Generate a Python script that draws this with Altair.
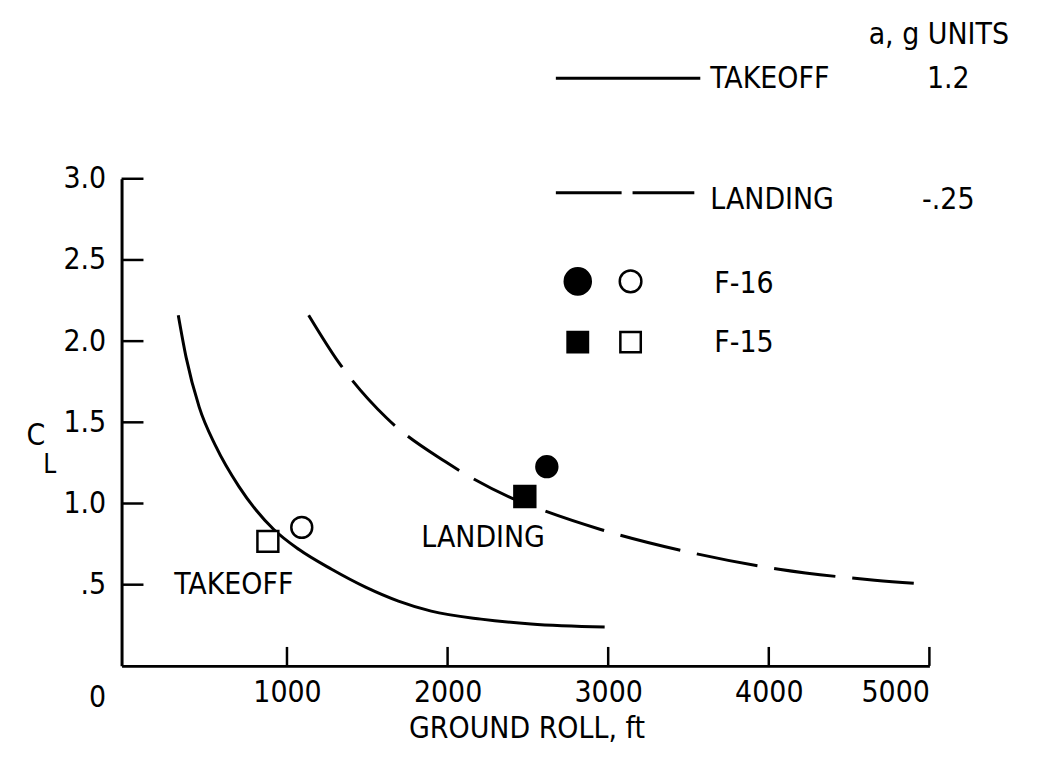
import altair as alt
import pandas as pd

FONT = "DejaVu Sans Condensed, Liberation Sans"

# ---- data ----
takeoff_x = [323, 372, 453, 558, 701, 918, 1073, 1278, 1489, 1694, 1898, 2208, 2519, 2978]
takeoff_y = [2.16, 1.90, 1.595, 1.35, 1.104, 0.840, 0.718, 0.595, 0.485, 0.399, 0.337, 0.288, 0.258, 0.239]

landing_x = [1135, 1321, 1619, 1985, 2419, 2581, 2953, 3536, 4063, 4659, 4981]
landing_y = [2.16, 1.871, 1.528, 1.258, 1.025, 0.963, 0.840, 0.693, 0.595, 0.528, 0.503]

aircraft = ["F-16", "F-15", "F-16", "F-15"]
phase = ["LANDING", "LANDING", "TAKEOFF", "TAKEOFF"]
pt_x = [2618, 2481, 1092, 881]
pt_y = [1.227, 1.043, 0.853, 0.767]

x_ticks = [1000, 2000, 3000, 4000, 5000]
y_ticks = [0.5, 1.0, 1.5, 2.0, 2.5, 3.0]

W, H = 811, 489
FS = 30

take_df = pd.DataFrame({"x": takeoff_x, "y": takeoff_y})
land_df = pd.DataFrame({"x": landing_x, "y": landing_y})
pts_df = pd.DataFrame({"aircraft": aircraft, "phase": phase, "x": pt_x, "y": pt_y})

xs = alt.Scale(domain=[-30, 5000], nice=False, zero=False)
ys = alt.Scale(domain=[0, 3], nice=False, zero=False)

xaxis = alt.Axis(values=x_ticks, format="d", ticks=False, labelPadding=12, labelFontSize=FS,
                 labelFont=FONT, domainWidth=3, domainColor="black", grid=False,
                 labelColor="black", title=None)
yaxis = alt.Axis(values=y_ticks, ticks=False, labelPadding=16, labelFontSize=FS,
                 labelFont=FONT, domainWidth=3, domainColor="black", grid=False,
                 labelColor="black", title=None,
                 labelExpr="datum.value == 0.5 ? '.5' : format(datum.value, '.1f')")

takeoff = alt.Chart(take_df).mark_line(color="black", strokeWidth=3, interpolate="monotone").encode(
    x=alt.X("x:Q", scale=xs, axis=xaxis),
    y=alt.Y("y:Q", scale=ys, axis=yaxis),
)
landing = alt.Chart(land_df).mark_line(color="black", strokeWidth=3, strokeDash=[62, 17],
                                       interpolate="monotone").encode(
    x=alt.X("x:Q", scale=xs), y=alt.Y("y:Q", scale=ys)
)

points = alt.Chart(pts_df).mark_point(filled=True, stroke="black", strokeWidth=2.5, size=440, opacity=1).encode(
    x=alt.X("x:Q", scale=xs),
    y=alt.Y("y:Q", scale=ys),
    shape=alt.Shape("aircraft:N", scale=alt.Scale(domain=["F-16", "F-15"], range=["circle", "square"]), legend=None),
    fill=alt.condition("datum.phase == 'LANDING'", alt.value("black"), alt.value("white")),
)

ytick = alt.Chart(pd.DataFrame({"v": y_ticks})).mark_rule(color="black", strokeWidth=2.5).encode(
    y=alt.Y("v:Q", scale=ys), x=alt.value(0), x2=alt.value(22)
)
xtick = alt.Chart(pd.DataFrame({"v": x_ticks})).mark_rule(color="black", strokeWidth=2.5).encode(
    x=alt.X("v:Q", scale=xs), y=alt.value(H), y2=alt.value(H - 19)
)

def txt(text, x, y, size=FS, align="left", baseline="alphabetic"):
    return alt.Chart().mark_text(text=text, font=FONT, fontSize=size, align=align,
                                 baseline=baseline, color="black").encode(
        x=alt.value(x), y=alt.value(y))

# annotations in data space
ann_take = alt.Chart().mark_text(text="TAKEOFF", font=FONT, fontSize=FS, align="left",
                                 baseline="alphabetic", color="black").encode(
    x=alt.datum(298, scale=xs), y=alt.datum(0.442, scale=ys))
ann_land = alt.Chart().mark_text(text="LANDING", font=FONT, fontSize=FS, align="left",
                                 baseline="alphabetic", color="black").encode(
    x=alt.datum(1836, scale=xs), y=alt.datum(0.730, scale=ys))

# legend (layout, in pixels relative to plot origin)
leg_solid = alt.Chart().mark_rule(color="black", strokeWidth=3).encode(
    x=alt.value(436), x2=alt.value(581), y=alt.value(-101))
leg_dash = alt.Chart().mark_rule(color="black", strokeWidth=3, strokeDash=[66, 11]).encode(
    x=alt.value(436), x2=alt.value(575), y=alt.value(14))

def sym(shape, filled, x, y, size):
    return alt.Chart().mark_point(shape=shape, filled=True, fill="black" if filled else "white",
                                  stroke="black", strokeWidth=2.5, size=size, opacity=1).encode(
        x=alt.value(x), y=alt.value(y))

legend = [
    leg_solid, leg_dash,
    txt("a,  g UNITS", 750, -135),
    txt("TAKEOFF", 591, -91),
    txt("1.2", 830, -91, align="center"),
    txt("LANDING", 591, 30),
    txt("-.25", 830, 30, align="center"),
    sym("circle", True, 458, 103, 683),
    sym("circle", False, 511, 103, 471),
    txt("F-16", 595, 115),
    sym("square", True, 458, 164, 420),
    sym("square", False, 511, 164, 420),
    txt("F-15", 595, 174),
]

others = [
    txt("0", -24, 530, align="center"),
    txt("GROUND ROLL, ft", 407, 561, align="center"),
    txt("C", -86, 267, align="center"),
    txt("L", -72, 295, size=26, align="center"),
]

chart = alt.layer(takeoff, landing, points, ytick, xtick, ann_take, ann_land, *legend, *others).properties(
    width=W, height=H,
    autosize=alt.AutoSizeParams(type="none"),
    padding={"left": 114, "top": 170, "right": 102, "bottom": 80},
).configure(font=FONT).configure_view(stroke=None)

chart.save("out.html", embed_options={"renderer": "svg", "actions": False})
